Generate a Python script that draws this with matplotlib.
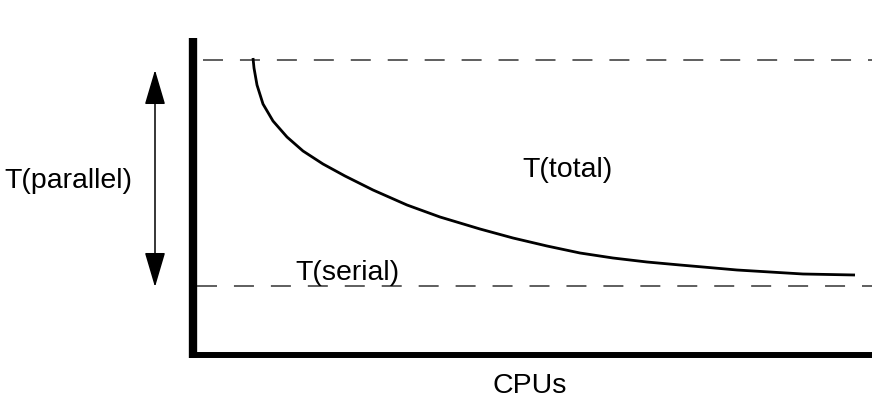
import matplotlib
matplotlib.use("Agg")
import matplotlib.pyplot as plt
from matplotlib.patches import FancyArrowPatch

plt.rcParams['font.family'] = ['Liberation Sans', 'DejaVu Sans']
plt.rcParams['lines.scale_dashes'] = False

# curve (pixel-like units, y grows downward)
cpus = [253, 254, 257, 263, 273, 287, 303, 323, 345, 373, 407, 440, 480, 513,
        547, 580, 613, 647, 680, 703, 737, 770, 803, 855]
t_total = [58, 68, 85, 104, 121, 137, 151, 164, 176, 190, 205, 217, 229, 238,
           246, 253, 258, 262, 265, 267, 270, 272, 274, 275]

t_parallel_level = 60
t_serial_level = 286
axis_x = 193
axis_y = 355
arrow_top = 70
arrow_bottom = 287

fig = plt.figure(figsize=(8.72, 4.08), dpi=100)
ax = fig.add_axes([0, 0, 1, 1])
ax.set_xlim(0, 872)
ax.set_ylim(408, 0)
ax.axis('off')

# axes (thick black L)
ax.plot([axis_x, axis_x], [38, axis_y + 3], color='black', lw=6, solid_capstyle='butt')
ax.plot([axis_x - 3, 872], [axis_y, axis_y], color='black', lw=4.3, solid_capstyle='butt')

# dashed reference levels
ax.plot([203, 872], [t_parallel_level, t_parallel_level], color='#333333', lw=1.1,
        dashes=(14.4, 12.2))
ax.plot([197, 872], [t_serial_level, t_serial_level], color='#333333', lw=1.1,
        dashes=(14.4, 12.2))

# total time curve
ax.plot(cpus, t_total, color='black', lw=2.0, solid_capstyle='butt',
        solid_joinstyle='round')

# double arrow for parallel part
arr = FancyArrowPatch((155, arrow_bottom), (155, arrow_top),
                      arrowstyle='<|-|>,head_length=22,head_width=6.5',
                      mutation_scale=1, shrinkA=0, shrinkB=0,
                      color='black', lw=1.1)
ax.add_patch(arr)

fs = 20.5
ax.text(68, 181, 'T(parallel)', fontsize=fs, ha='center', va='center')
ax.text(567, 170, 'T(total)', fontsize=fs, ha='center', va='center')
ax.text(347, 273, 'T(serial)', fontsize=fs, ha='center', va='center')
ax.text(530, 386, 'CPUs', fontsize=fs, ha='center', va='center')

fig.savefig('out.png', dpi=100)
